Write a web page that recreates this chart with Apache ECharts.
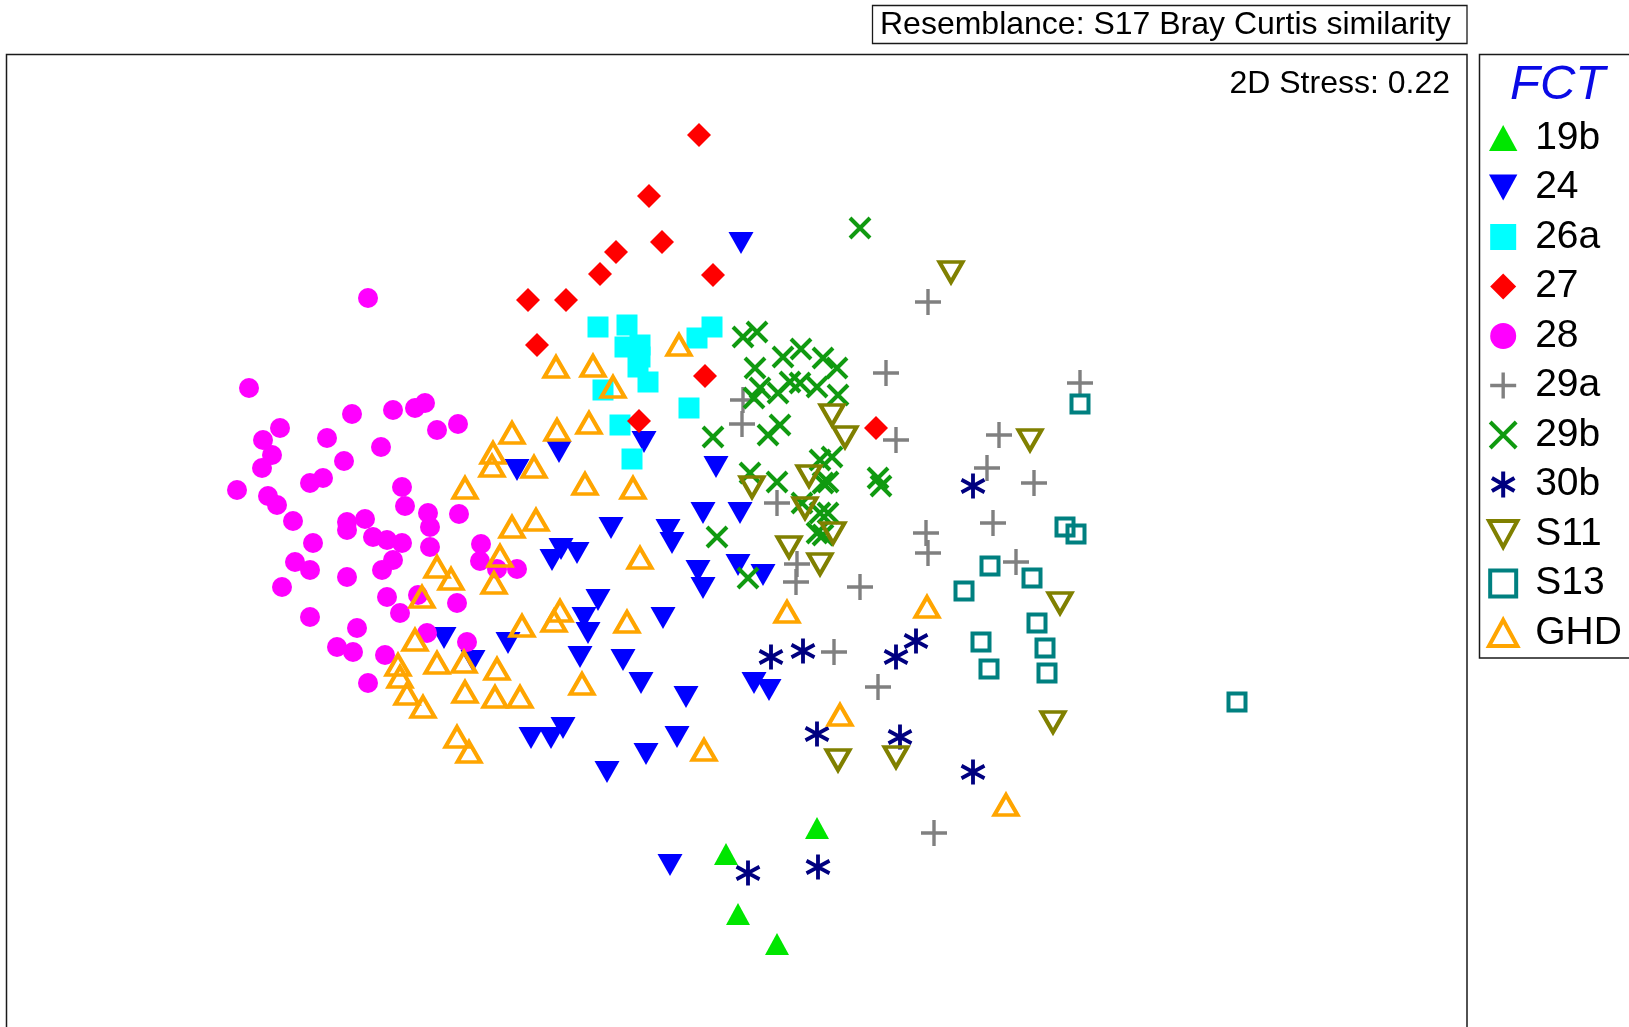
<!DOCTYPE html>
<html><head><meta charset="utf-8">
<script src="https://cdn.jsdelivr.net/npm/echarts@6.0.0/dist/echarts.min.js"></script>
<style>html,body{margin:0;padding:0;background:#fff}#c{width:1629px;height:1027px}</style>
</head><body><div id="c"></div>
<script>
// nMDS coordinates (MDS1 right, MDS2 down, plot units)
const groups = ['19b','24','26a','27','28','29a','29b','30b','S11','S13','GHD'];
const p19b = [[817,828],[726,854],[738,914],[777,944]];
const p24 = [[741,243],[559,452],[644,442],[517,470],[716,467],[611,528],[668,530],[672,543],[703,513],[740,513],[552,560],[561,549],[577,553],[698,571],[703,588],[738,565],[763,575],[598,600],[584,618],[588,633],[663,618],[580,657],[623,660],[641,683],[686,697],[754,683],[769,690],[563,728],[551,738],[531,738],[677,737],[646,754],[607,772],[670,865],[444,638],[508,643],[473,661]];
const p26a = [[598,327],[627,325],[625,347],[640,345],[640,357],[638,367],[648,382],[603,390],[697,338],[712,327],[689,408],[620,425],[632,459]];
const p27 = [[699,135],[649,196],[662,242],[616,252],[600,274],[713,275],[528,300],[566,300],[537,345],[705,376],[639,421],[876,428]];
const p28 = [[368,298],[249,388],[352,414],[393,410],[415,408],[425,403],[437,430],[458,424],[280,428],[263,440],[272,455],[262,468],[327,438],[381,447],[344,461],[237,490],[268,496],[277,505],[310,483],[323,478],[402,487],[405,506],[428,513],[430,527],[459,514],[293,521],[347,522],[347,530],[365,519],[373,537],[387,540],[402,543],[313,543],[430,547],[481,544],[480,561],[497,569],[517,569],[295,562],[310,570],[347,577],[382,570],[393,560],[282,587],[387,597],[400,613],[418,595],[457,603],[310,617],[357,628],[337,647],[353,652],[385,655],[427,633],[467,642],[368,683]];
const p29a = [[928,302],[886,373],[1080,383],[896,440],[999,435],[987,468],[1034,483],[743,400],[742,424],[777,503],[797,564],[796,582],[860,587],[834,652],[878,687],[993,523],[926,533],[928,553],[1016,562],[934,833]];
const p29b = [[860,228],[743,337],[757,332],[783,357],[801,349],[823,358],[837,368],[755,368],[760,388],[754,398],[778,393],[790,382],[800,383],[817,387],[838,395],[713,437],[768,435],[780,425],[820,460],[832,457],[823,483],[828,482],[750,473],[777,482],[802,503],[820,513],[828,513],[817,533],[823,535],[717,537],[748,578],[878,478],[881,486]];
const p30b = [[771,657],[803,651],[896,657],[916,641],[973,486],[817,734],[900,737],[973,772],[748,873],[818,867]];
const pS11 = [[951,272],[832,415],[845,437],[1030,440],[752,487],[809,476],[805,508],[833,533],[789,547],[820,564],[1060,603],[1053,722],[838,760],[896,757]];
const pS13 = [[1080,404],[1065,527],[1076,534],[990,566],[1032,578],[964,591],[1037,623],[981,642],[1045,648],[989,669],[1047,673],[1237,702]];
const pGHD = [[679,345],[556,367],[593,366],[613,387],[512,433],[557,430],[589,423],[493,453],[492,466],[534,467],[465,488],[585,484],[633,488],[512,527],[536,520],[500,556],[640,558],[437,567],[451,579],[494,583],[422,597],[560,611],[554,621],[522,626],[627,622],[787,612],[927,607],[415,640],[398,665],[400,677],[437,663],[464,662],[497,669],[582,684],[465,692],[495,697],[520,697],[407,694],[423,707],[457,737],[469,752],[704,750],[840,715],[1006,805]];
const groupData = [p19b,p24,p26a,p27,p28,p29a,p29b,p30b,pS11,pS13,pGHD];
const titleText = 'Resemblance: S17 Bray Curtis similarity';
const stressText = '2D Stress: 0.22';
const legendTitle = 'FCT';

const FONT = "'Liberation Sans', Arial, Helvetica, sans-serif";
const SYM = {
  triUp: 'path://M12,0L24,22L0,22Z',
  triDown: 'path://M0,0L24,0L12,22Z',
  square: 'path://M0,0L20,0L20,20L0,20Z',
  diamond: 'path://M12,0L24,12L12,24L0,12Z',
  circle: 'path://M0,10A10,10,0,1,1,20,10A10,10,0,1,1,0,10Z',
  plus: 'path://M0,13L26,13M13,0L13,26',
  cross: 'path://M0,0L22,22M0,22L22,0',
  star: 'path://M12,0L12,24M1.6,6L22.4,18M1.6,18L22.4,6'
};
const STY = [
  {sym: SYM.triUp,   size: [24,22], fill: '#00e600', stroke: '#00e600', lw: 0},
  {sym: SYM.triDown, size: [25,22], fill: '#0000ff', stroke: '#0000ff', lw: 0},
  {sym: SYM.square,  size: [21,21], fill: '#00ffff', stroke: '#00ffff', lw: 0},
  {sym: SYM.diamond, size: [24,24], fill: '#ff0000', stroke: '#ff0000', lw: 0},
  {sym: SYM.circle,  size: [20,20], fill: '#ff00ff', stroke: '#ff00ff', lw: 0},
  {sym: SYM.plus,    size: [26,26], fill: 'transparent', stroke: '#808080', lw: 3.4},
  {sym: SYM.cross,   size: [20,20], fill: 'transparent', stroke: '#109a10', lw: 4},
  {sym: SYM.star,    size: [23,25], fill: 'transparent', stroke: '#000080', lw: 4},
  {sym: SYM.triDown, size: [23,20], fill: 'transparent', stroke: '#808000', lw: 4},
  {sym: SYM.square,  size: [17,17], fill: 'transparent', stroke: '#008080', lw: 4},
  {sym: SYM.triUp,   size: [23,20], fill: 'transparent', stroke: '#ffa500', lw: 4}
];

const series = groups.map((g, i) => ({
  name: g, type: 'scatter', data: groupData[i],
  symbol: STY[i].sym, symbolSize: STY[i].size,
  itemStyle: {color: STY[i].fill, borderColor: STY[i].stroke, borderWidth: STY[i].lw, opacity: 1},
  emphasis: {disabled: true}, silent: true, animation: false
}));

const legendData = groups.map((g, i) => ({
  name: g, icon: STY[i].sym,
  itemStyle: {color: STY[i].fill === 'transparent' ? 'none' : STY[i].fill,
              borderColor: STY[i].stroke, borderWidth: STY[i].lw}
}));

const chart = echarts.init(document.getElementById('c'), null, {renderer: 'canvas'});
chart.setOption({
  backgroundColor: '#fff',
  animation: false,
  grid: {left: 6.5, top: 54.5, width: 1460.5, height: 972.5, show: false},
  xAxis: {type: 'value', min: 6.5, max: 1467, show: false},
  yAxis: {type: 'value', min: 54.5, max: 1027, inverse: true, show: false},
  legend: {
    orient: 'vertical', left: 1486.5, top: 117, padding: 0,
    itemWidth: 54, itemHeight: 26, itemGap: 7.5, symbolKeepAspect: true,
    selectedMode: false,
    textStyle: {fontFamily: FONT, fontSize: 39, color: '#000', lineHeight: 42},
    data: legendData
  },
  graphic: [
    {type: 'polyline', shape: {points: [[6.5,1040],[6.5,54.5],[1467,54.5],[1467,1040]]},
     style: {fill: 'none', stroke: '#1a1a1a', lineWidth: 1.5}, silent: true, z: 0},
    {type: 'rect', shape: {x: 872.5, y: 5.5, width: 594.5, height: 38},
     style: {fill: 'none', stroke: '#1a1a1a', lineWidth: 1.3}, silent: true},
    {type: 'text', x: 880, y: 25, style: {text: titleText, font: '32px ' + FONT,
     fill: '#000', textAlign: 'left', textVerticalAlign: 'middle'}, silent: true},
    {type: 'text', x: 1450, y: 84, style: {text: stressText, font: '32px ' + FONT,
     fill: '#000', textAlign: 'right', textVerticalAlign: 'middle'}, silent: true},
    {type: 'rect', shape: {x: 1479.5, y: 54.5, width: 200, height: 603.5},
     style: {fill: 'none', stroke: '#1a1a1a', lineWidth: 1.5}, silent: true},
    {type: 'text', x: 1510, y: 85, style: {text: legendTitle, font: 'italic 49px ' + FONT,
     fill: '#0a0ae6', textAlign: 'left', textVerticalAlign: 'middle'}, silent: true}
  ],
  series: series
});
</script></body></html>
